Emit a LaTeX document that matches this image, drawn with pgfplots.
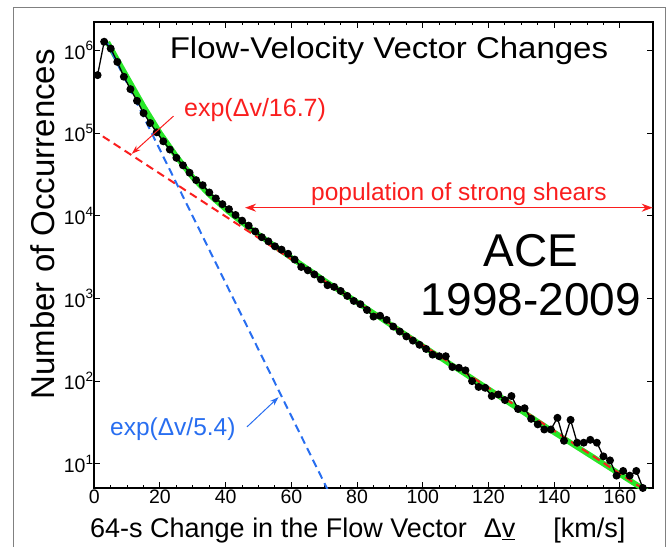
\documentclass[border=0pt]{standalone}
\usepackage{pgfplots}
\pgfplotsset{compat=1.18}
\usepackage{fontspec}
\setmainfont{Liberation Sans}
\usetikzlibrary{arrows.meta}
\definecolor{myred}{RGB}{250,30,30}
\definecolor{myblue}{RGB}{40,110,240}
\definecolor{mygreen}{RGB}{40,230,40}
\pgfplotstableread{
x y
1 5.01e5
3 1.27e6
5 1.05e6
7 7.24e5
9 4.79e5
11 3.39e5
13 2.45e5
15 1.74e5
17 1.32e5
19 1.02e5
21 7.94e4
23 6.31e4
25 5.01e4
27 4.07e4
29 3.31e4
31 2.69e4
33 2.34e4
35 1.91e4
37 1.62e4
39 1.38e4
41 1.20e4
43 1.02e4
45 8710
47 7586
49 6457
51 5495
53 4898
55 4266
57 3890
59 3467
61 2951
63 2399
65 2188
67 1950
69 1698
71 1445
73 1380
75 1230
77 1072
79 933
81 851
83 724
85 603
87 617
89 550
91 457
93 398
95 347
97 309
99 275
101 245
103 209
105 200
107 200
109 148
111 145
113 135
115 100
117 85
119 83
121 66
123 69
125 59
127 66
129 46
131 47
133 35
135 30
137 26
139 26
141 36
143 19
145 34
147 18
149 18
151 19.5
153 18
155 12.3
157 11
159 7.2
161 8.2
163 7.2
165 8.2
167 5.1
}\data
\begin{document}
\begin{tikzpicture}
\path[use as bounding box] (-94.3pt,-58pt) rectangle (574.7pt,488pt);
\draw[black!50, line width=1pt] (-80.3pt,-70pt) -- (-80.3pt,480pt) -- (570.7pt,480pt) -- (570.7pt,-70pt);
\begin{axis}[
  scale only axis, width=558.4pt, height=466pt,
  xmin=0, xmax=170, ymode=log, log basis y=10, ymin=5.1, ymax=2.2e6,
  xtick={0,20,...,160}, minor x tick num=3,
  ytick={10,100,1000,10000,100000,1000000},
  yticklabel={10\raisebox{0.42em}{\fontsize{13.5}{13.5}\selectfont\pgfmathparse{int(round(\tick))}\pgfmathresult}},
  axis line style={line width=1.6pt},
  every tick/.style={black, line width=1pt},
  major tick length=6pt, minor tick length=3.5pt,
  tick align=inside,
  ticklabel style={font=\fontsize{19.5}{19.5}\selectfont},
  /pgf/number format/assume math mode=true,
  yticklabel style={inner xsep=1pt},
  xticklabel style={inner ysep=2pt},
  clip mode=individual,
]
\addplot[mygreen, line width=5.5pt] coordinates {
(4,1.25e6) (10,4.7e5) (15,2.1e5) (20,1.0e5) (25,5.2e4) (30,2.9e4) (35,1.8e4) (40,1.2e4) (45,8.3e3) (50,5.9e3) (60,3.1e3) (70,1.65e3) (80,900) (100,265) (120,80) (140,24) (170,4.2)};
\addplot[myred, line width=2pt, dash pattern=on 8pt off 5pt] coordinates {(2.6,9.1e4) (170,4.2)};
\addplot[myblue, line width=2pt, dash pattern=on 8pt off 5pt] coordinates {(3.5,1.33e6) (71,4.9)};
\addplot[black, line width=1.3pt, mark=*, mark size=3.3pt] table[x=x,y=y] {\data};
\draw[myred, line width=1pt, -{Stealth[length=9pt,width=6pt]}] (axis cs:24.1,1.6e5) -- (axis cs:11.4,5.6e4);
\draw[myred, line width=1.5pt, {Stealth[length=11pt,width=8pt]}-{Stealth[length=11pt,width=8pt]}] (axis cs:45.9,1.25e4) -- (axis cs:170,1.25e4);
\draw[myblue, line width=1pt, -{Stealth[length=9pt,width=6pt]}] (axis cs:46.5,28) -- (axis cs:56.1,64);
\node[anchor=base, font=\fontsize{30}{30}\selectfont, xscale=1.1] at (axis description cs:0.5277,0.9227) {Flow-Velocity Vector Changes};
\node[anchor=base west, text=myred, font=\fontsize{25}{25}\selectfont, inner sep=0pt] at (axis description cs:0.1606,0.797) {exp(Δv/16.7)};
\node[anchor=base west, text=myred, font=\fontsize{24.5}{24.5}\selectfont, inner sep=0pt] at (axis description cs:0.388,0.618) {population of strong shears};
\node[anchor=base west, text=myblue, font=\fontsize{24.5}{24.5}\selectfont, inner sep=0pt] at (axis description cs:0.0281,0.1137) {exp(Δv/5.4)};
\node[anchor=base, font=\fontsize{46}{46}\selectfont, inner sep=0pt] at (axis description cs:0.782,0.4753) {ACE};
\node[anchor=base, font=\fontsize{46}{46}\selectfont, inner sep=0pt] at (axis description cs:0.782,0.3712) {1998-2009};
\node[rotate=90, font=\fontsize{33}{33}\selectfont, inner sep=0pt] at (axis description cs:-0.0919,0.566) {Number of Occurrences};
\node[anchor=base west, font=\fontsize{27}{27}\selectfont, inner sep=0pt] at (axis description cs:-0.0077,-0.107) {64-s Change in the Flow Vector\hspace{17pt}Δ\underline{v}\hspace{38pt}[km/s]};
\end{axis}
\end{tikzpicture}
\end{document}
